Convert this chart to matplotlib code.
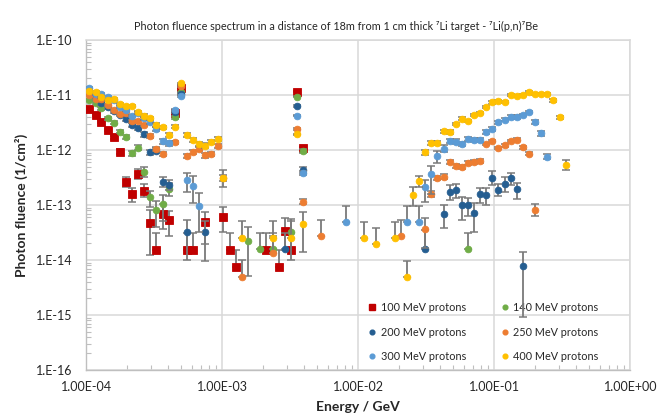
import matplotlib
matplotlib.use('Agg')
import matplotlib.pyplot as plt
from matplotlib.ticker import LogLocator, FuncFormatter, NullFormatter, FixedLocator
from matplotlib.lines import Line2D
import numpy as np

plt.rcParams['font.family'] = ['Lato', 'DejaVu Sans']

# common energy bins (GeV), index -> energy
energy_bins = [1.05e-4, 1.17e-4, 1.29e-4, 1.44e-4, 1.59e-4, 1.77e-4, 1.96e-4, 2.17e-4, 2.41e-4, 2.67e-4,
               2.96e-4, 3.28e-4, 3.64e-4, 4.04e-4, 4.48e-4, 4.96e-4, 5.50e-4, 6.10e-4, 6.77e-4, 7.50e-4,
               8.32e-4, 9.23e-4, 1.02e-3, 1.14e-3, 1.26e-3, 1.40e-3, 1.55e-3, 1.72e-3, 1.90e-3, 2.11e-3,
               2.34e-3, 2.60e-3, 2.88e-3, 3.19e-3, 3.54e-3, 3.93e-3, 4.35e-3, 4.83e-3, 5.35e-3, 5.93e-3,
               6.58e-3, 7.30e-3, 8.09e-3, 8.97e-3, 9.95e-3, 1.10e-2, 1.22e-2, 1.36e-2, 1.51e-2, 1.67e-2,
               1.85e-2, 2.05e-2, 2.28e-2, 2.53e-2, 2.80e-2, 3.11e-2, 3.44e-2, 3.82e-2, 4.24e-2, 4.70e-2,
               5.21e-2, 5.78e-2, 6.40e-2, 7.10e-2, 7.87e-2, 8.73e-2, 9.68e-2, 1.07e-1, 1.19e-1, 1.32e-1,
               1.47e-1, 1.63e-1, 1.80e-1, 2.00e-1, 2.21e-1, 2.45e-1, 2.72e-1, 3.02e-1, 3.35e-1]

# ---- 100 MeV protons ----
idx_100 = [0, 1, 2, 3, 4, 5, 6, 7, 8, 9, 10, 11, 12, 13, 14, 15, 16, 17, 19, 22, 23, 24, 29, 31, 32, 33, 34, 35]
flu_100 = [5.64e-12, 4.38e-12, 3.27e-12, 2.31e-12, 1.70e-12, 9.3e-13, 2.65e-13, 1.60e-13, 3.71e-13, 1.82e-13,
           4.77e-14, 1.54e-14, 6.95e-14, 5.4e-14, 4.65e-12, 1.36e-11, 1.54e-14, 1.54e-14, 4.84e-14, 6.12e-14,
           1.54e-14, 7.55e-15, 1.54e-14, 7.55e-15, 3.41e-14, 1.54e-14, 1.15e-11, 1.07e-12]
up_100 = [0.04, 0.04, 0.05, 0.06, 0.07, 0.10, 0.20, 0.25, 0.20, 0.31, 0.68, 1.0, 0.48, 0.44, 0.05, 0.03,
          1.0, 1.0, 0.52, 0.48, 1.0, 1.0, 1.0, 1.0, 0.68, 1.0, 0.03, 0.08]
dn_100 = [0.04, 0.04, 0.05, 0.06, 0.07, 0.10, 0.19, 0.30, 0.21, 0.22, 0.74, 0.0, 0.47, 0.50, 0.05, 0.03,
          0.0, 0.0, 0.60, 0.47, 0.0, 0.0, 0.0, 0.0, 0.55, 0.0, 0.03, 0.08]

# ---- 140 MeV protons ----
idx_140 = [0, 1, 2, 3, 4, 5, 6, 7, 8, 9, 10, 11, 12, 13, 14, 15, 26, 28, 30, 33, 34, 35, 62]
flu_140 = [8.1e-12, 7.24e-12, 5.73e-12, 3.77e-12, 3.13e-12, 2.15e-12, 1.70e-12, 8.7e-13, 1.10e-12, 4.03e-13,
           1.38e-13, 8.0e-14, 1.04e-13, 1.95e-13, 3.93e-12, 1.12e-11, 2.24e-14, 1.58e-14, 1.58e-14, 3.23e-14,
           9.3e-12, 9.7e-13, 1.58e-14]
up_140 = [0.04, 0.04, 0.05, 0.06, 0.06, 0.07, 0.08, 0.12, 0.10, 0.20, 0.32, 0.50, 0.45, 0.27, 0.05, 0.03,
          0.75, 1.0, 1.0, 0.70, 0.03, 0.08, 1.0]
dn_140 = [0.04, 0.04, 0.05, 0.06, 0.06, 0.07, 0.08, 0.12, 0.10, 0.19, 0.33, 0.51, 0.50, 0.25, 0.05, 0.03,
          0.77, 0.0, 0.0, 0.69, 0.03, 0.08, 0.0]

# ---- 200 MeV protons ----
idx_200 = [0, 1, 2, 3, 4, 5, 6, 7, 8, 9, 10, 11, 12, 13, 14, 15, 16, 19, 32, 34, 35, 55,
           58, 59, 60, 61, 62, 63, 64, 65, 66, 67, 68, 69, 70, 71]
flu_200 = [1.12e-11, 9.3e-12, 7.06e-12, 5.97e-12, 5.1e-12, 4.4e-12, 3.66e-12, 2.85e-12, 2.54e-12, 1.93e-12,
           9.1e-13, 9.7e-13, 2.59e-13, 2.34e-13, 4.97e-12, 1.04e-11, 3.23e-14, 3.23e-14, 1.58e-14, 6.39e-12,
           4.33e-13, 1.57e-14, 6.78e-14, 1.70e-13, 1.87e-13, 9.9e-14, 9.9e-14, 7.06e-14, 1.58e-13, 1.54e-13,
           3.10e-13, 1.87e-13, 2.41e-13, 3.10e-13, 1.93e-13, 7.67e-15]
up_200 = [0.04, 0.04, 0.05, 0.05, 0.06, 0.06, 0.07, 0.08, 0.08, 0.09, 0.10, 0.10, 0.23, 0.20, 0.05, 0.03,
          0.67, 0.60, 1.0, 0.04, 0.12, 1.2, 0.46, 0.36, 0.30, 0.43, 0.37, 0.52, 0.27, 0.31, 0.32, 0.27,
          0.32, 0.22, 0.32, 0.84]
dn_200 = [0.04, 0.04, 0.05, 0.05, 0.06, 0.06, 0.07, 0.08, 0.08, 0.09, 0.10, 0.10, 0.17, 0.20, 0.05, 0.03,
          0.69, 0.70, 0.0, 0.04, 0.12, 0.0, 0.43, 0.28, 0.29, 0.46, 0.36, 0.54, 0.30, 0.35, 0.25, 0.22,
          0.28, 0.25, 0.33, 0.88]

# ---- 250 MeV protons ----
idx_250 = [0, 1, 2, 3, 4, 5, 6, 7, 8, 9, 10, 11, 12, 14, 15, 16, 17, 18, 19, 20, 21, 22, 25, 30, 34, 35, 38, 51,
           55, 56, 57, 58, 59, 60, 61, 62, 63, 64, 65, 66, 67, 68, 69, 70, 71, 72, 73]
flu_250 = [1.0e-11, 8.35e-12, 8.45e-12, 6.58e-12, 5.33e-12, 4.51e-12, 4.65e-12, 3.33e-12, 3.33e-12, 2.85e-12,
           1.80e-12, 1.06e-12, 8.45e-13, 1.38e-12, 1.46e-11, 7.88e-13, 9.1e-13, 1.06e-12, 8.01e-13, 8.45e-13,
           1.17e-12, 3.13e-13, 4.91e-15, 1.34e-14, 2.41e-12, 1.15e-13, 2.70e-14, 2.70e-14,
           3.66e-14, 1.58e-13, 3.10e-13, 3.27e-13, 5.97e-13, 5.12e-13, 4.97e-13, 5.87e-13, 6.05e-13, 6.38e-13,
           1.29e-12, 1.46e-12, 1.09e-12, 1.22e-12, 1.46e-12, 1.54e-12, 1.12e-12, 8.57e-13, 8.0e-14]
up_250 = [0.04, 0.04, 0.04, 0.05, 0.05, 0.05, 0.05, 0.06, 0.06, 0.06, 0.07, 0.08, 0.09,
          0.06, 0.03, 0.09, 0.08, 0.08, 0.09, 0.09, 0.08, 0.12,
          1.04, 1.0, 0.04, 0.10, 0.98, 0.98,
          0.56, 0.12, 0.10, 0.10, 0.08, 0.08, 0.08, 0.08, 0.08, 0.08, 0.06, 0.06, 0.06, 0.06, 0.06, 0.06,
          0.06, 0.07, 0.29]
dn_250 = [0.04, 0.04, 0.04, 0.05, 0.05, 0.05, 0.05, 0.06, 0.06, 0.06, 0.07, 0.08, 0.09,
          0.06, 0.03, 0.09, 0.08, 0.08, 0.09, 0.09, 0.08, 0.12,
          0.0, 0.0, 0.04, 0.10, 0.0, 0.0,
          0.55, 0.12, 0.10, 0.10, 0.08, 0.08, 0.08, 0.08, 0.08, 0.08, 0.06, 0.06, 0.06, 0.06, 0.06, 0.06,
          0.06, 0.07, 0.21]

# ---- 300 MeV protons ----
idx_300 = [0, 1, 2, 3, 4, 5, 6, 7, 8, 9, 10, 11, 12, 13, 14, 15, 16, 17, 18, 34, 35, 42, 52, 54,
           55, 56, 57, 58, 59, 60, 61, 62, 63, 64, 65, 66, 67, 68, 69, 70, 71, 72, 73, 74, 75]
flu_300 = [1.32e-11, 1.04e-11, 1.04e-11, 9.3e-12, 8.1e-12, 6.12e-12, 5.33e-12, 4.15e-12, 4.65e-12, 3.77e-12,
           3.23e-12, 2.41e-12, 1.44e-12, 1.32e-12, 5.33e-12, 9.6e-12, 2.88e-13, 2.24e-13, 9.6e-14,
           4.21e-12, 3.77e-13, 4.84e-14, 4.84e-14, 4.84e-14,
           2.10e-13, 3.66e-13, 7.78e-13, 1.06e-12, 1.46e-12, 1.42e-12, 1.29e-12, 1.57e-12, 1.52e-12, 1.52e-12,
           2.15e-12, 2.44e-12, 3.19e-12, 3.56e-12, 3.98e-12, 3.98e-12, 4.33e-12, 4.91e-12, 3.27e-12, 2.01e-12,
           7.55e-13]
up_300 = [0.04, 0.04, 0.04, 0.04, 0.05, 0.05, 0.05, 0.06, 0.06, 0.06, 0.07, 0.08, 0.10, 0.12, 0.05, 0.03,
          0.34, 0.52, 0.70, 0.03, 0.08, 0.98, 0.98, 0.98,
          0.36, 0.40, 0.25, 0.15, 0.10, 0.10, 0.10, 0.09, 0.09, 0.09, 0.08, 0.08, 0.07, 0.07, 0.07, 0.07,
          0.06, 0.06, 0.08, 0.10, 0.10]
dn_300 = [0.04, 0.04, 0.04, 0.04, 0.05, 0.05, 0.05, 0.06, 0.06, 0.06, 0.07, 0.08, 0.10, 0.12, 0.05, 0.03,
          0.40, 0.52, 0.67, 0.03, 0.08, 0.0, 0.0, 0.0,
          0.47, 0.57, 0.25, 0.15, 0.10, 0.10, 0.10, 0.09, 0.09, 0.09, 0.08, 0.08, 0.07, 0.07, 0.07, 0.07,
          0.06, 0.06, 0.08, 0.10, 0.10]

# ---- 400 MeV protons ----
idx_400 = [0, 1, 2, 3, 4, 5, 6, 7, 8, 9, 10, 11, 12, 13, 14, 15, 16, 17, 18, 19, 20, 21, 22,
           25, 30, 33, 34, 35, 45, 47, 50,
           52, 53, 54, 55, 56, 57, 58, 59, 60, 61, 62, 63, 64, 65, 66, 67, 68, 69, 70, 71, 72, 73, 74, 75,
           76, 77, 78]
flu_400 = [1.18e-11, 1.12e-11, 9.3e-12, 8.1e-12, 8.35e-12, 6.86e-12, 6.39e-12, 6.31e-12, 4.85e-12, 4.21e-12,
           3.77e-12, 2.85e-12, 2.59e-12, 1.85e-12, 2.65e-12, 1.63e-11, 1.87e-12, 1.54e-12, 1.30e-12, 1.20e-12,
           1.42e-12, 1.57e-12, 3.13e-13,
           2.48e-14, 2.48e-14, 2.48e-14, 1.93e-12, 4.51e-14, 2.48e-14, 1.98e-14, 2.48e-14,
           4.84e-15, 1.54e-13, 2.70e-13, 9.2e-13, 1.36e-12, 1.36e-12, 2.19e-12, 2.12e-12, 2.97e-12, 3.71e-12,
           3.37e-12, 4.33e-12, 4.77e-12, 6.12e-12, 7.36e-12, 7.78e-12, 7.55e-12, 9.9e-12, 9.5e-12, 1.01e-11,
           1.12e-11, 1.06e-11, 1.06e-11, 1.06e-11, 8.0e-12, 3.93e-12, 5.4e-13]
up_400 = [0.04, 0.04, 0.04, 0.04, 0.04, 0.05, 0.05, 0.05, 0.05, 0.06, 0.06, 0.07, 0.07, 0.08, 0.06, 0.03,
          0.08, 0.08, 0.09, 0.10, 0.09, 0.09, 0.40,
          1.06, 1.06, 1.06, 0.03, 0.63, 1.0, 0.95, 1.0,
          1.0, 0.40, 0.26, 0.10, 0.08, 0.08, 0.07, 0.07, 0.06, 0.06, 0.06, 0.05, 0.05, 0.05, 0.05, 0.05,
          0.05, 0.04, 0.04, 0.04, 0.04, 0.04, 0.04, 0.04, 0.05, 0.06, 0.22]
dn_400 = [0.04, 0.04, 0.04, 0.04, 0.04, 0.05, 0.05, 0.05, 0.05, 0.06, 0.06, 0.07, 0.07, 0.08, 0.06, 0.03,
          0.08, 0.08, 0.09, 0.10, 0.09, 0.09, 0.32,
          0.0, 0.0, 0.0, 0.03, 0.69, 0.0, 0.0, 0.0,
          0.0, 0.37, 0.20, 0.10, 0.08, 0.08, 0.07, 0.07, 0.06, 0.06, 0.06, 0.05, 0.05, 0.05, 0.05, 0.05,
          0.05, 0.04, 0.04, 0.04, 0.04, 0.04, 0.04, 0.04, 0.05, 0.06, 0.20]

labels = ['100 MeV protons', '140 MeV protons', '200 MeV protons',
          '250 MeV protons', '300 MeV protons', '400 MeV protons']
colors = ['#C00000', '#70AD47', '#255E91', '#ED7D31', '#5B9BD5', '#FFC000']
markers = ['s', 'o', 'o', 'o', 'o', 'o']
sizes = [5.6, 4.8, 4.8, 4.8, 4.8, 4.8]

series = [(idx_100, flu_100, up_100, dn_100), (idx_140, flu_140, up_140, dn_140),
          (idx_200, flu_200, up_200, dn_200), (idx_250, flu_250, up_250, dn_250),
          (idx_300, flu_300, up_300, dn_300), (idx_400, flu_400, up_400, dn_400)]

fig = plt.figure(figsize=(6.72, 4.19), dpi=100)
ax = fig.add_axes([86.3 / 672, 49 / 419, 544 / 672, 330 / 419])

for k, (idx, flu, up, dn) in enumerate(series):
    x = np.array([energy_bins[i] for i in idx])
    y = np.array(flu)
    yerr = np.vstack([y * np.array(dn), y * np.array(up)])
    ax.errorbar(x, y, yerr=yerr, fmt='none', ecolor='#7A7A7A', elinewidth=1.3,
                capsize=2.6, capthick=1.1, zorder=2 + k * 2)
    ax.plot(x, y, linestyle='none', marker=markers[k], markersize=sizes[k],
            color=colors[k], markeredgewidth=0.6, markeredgecolor=colors[k], zorder=3 + k * 2)

ax.set_xscale('log')
ax.set_yscale('log')
ax.set_xlim(1e-4, 1e0)
ax.set_ylim(1e-16, 1e-10)

ax.xaxis.set_major_locator(FixedLocator([1e-4, 1e-3, 1e-2, 1e-1, 1e0]))
ax.yaxis.set_major_locator(FixedLocator([10.0 ** e for e in range(-16, -9)]))
ax.xaxis.set_minor_locator(LogLocator(base=10, subs=np.arange(2, 10), numticks=20))
ax.yaxis.set_minor_locator(LogLocator(base=10, subs=np.arange(2, 10), numticks=20))
ax.xaxis.set_minor_formatter(NullFormatter())
ax.yaxis.set_minor_formatter(NullFormatter())
ax.xaxis.set_major_formatter(FuncFormatter(lambda v, p: f"{v:.2E}"))
ax.yaxis.set_major_formatter(FuncFormatter(lambda v, p: f"1.E{int(round(np.log10(v))):03d}"))

ax.grid(True, which='major', color='#D9D9D9', linewidth=1.1, zorder=0)
ax.set_axisbelow(True)
ax.tick_params(which='major', length=0, pad=10, labelsize=9, labelcolor='#262626')
ax.tick_params(axis='x', which='major', pad=8)
ax.tick_params(which='minor', direction='in', length=3.5, width=0.8, color='#BFBFBF')
for s in ['left', 'bottom']:
    ax.spines[s].set_color('#BFBFBF')
    ax.spines[s].set_linewidth(1.0)
for s in ['top', 'right']:
    ax.spines[s].set_color('#D9D9D9')
    ax.spines[s].set_linewidth(1.1)

ax.set_xlabel('Energy / GeV', fontsize=10, fontweight='bold', color='#262626', labelpad=6)
ax.set_ylabel('Photon fluence (1/cm²)', fontsize=10, fontweight='bold', color='#262626')
ax.yaxis.set_label_coords(-0.108, 0.5)

fig.text(0.5, 0.938, 'Photon fluence spectrum in a distance of 18m from 1 cm thick \u2077Li target - \u2077Li(p,n)\u2077Be',
         ha='center', va='center', fontsize=7.8, color='#262626')

handles = []
order = [0, 2, 4, 1, 3, 5]
for k in order:
    handles.append(Line2D([], [], linestyle='none', marker=markers[k], color=colors[k],
                          markersize=4.0 if k == 0 else 3.4))
leg = ax.legend(handles, [labels[k] for k in order], ncol=2, loc='upper left',
                bbox_to_anchor=(0.520, 0.206), frameon=False, fontsize=7.8,
                handlelength=0.6, handletextpad=0.45, columnspacing=3.3, labelspacing=1.25,
                borderaxespad=0.0, borderpad=0.0)
for t in leg.get_texts():
    t.set_color('#262626')

fig.savefig('out.png', dpi=100)
